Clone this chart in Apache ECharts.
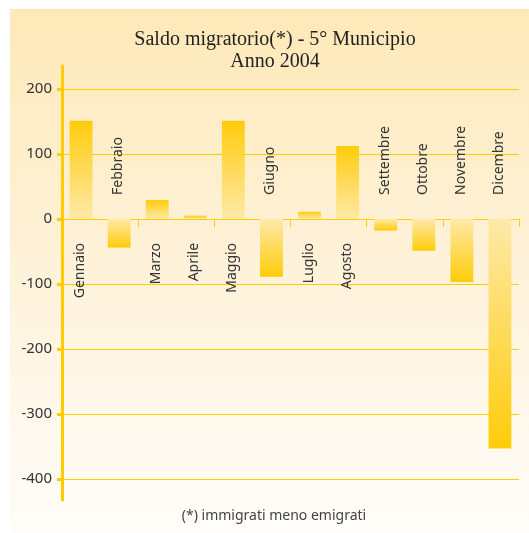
<!DOCTYPE html>
<html>
<head>
<meta charset="utf-8">
<script src="https://cdn.jsdelivr.net/npm/echarts@6/dist/echarts.min.js"></script>
<style>html,body{margin:0;padding:0;background:#fff;}#c{width:529px;height:533px;}</style>
</head>
<body>
<div id="c"></div>
<script>
const categories = ['Gennaio','Febbraio','Marzo','Aprile','Maggio','Giugno','Luglio','Agosto','Settembre','Ottobre','Novembre','Dicembre'];
const values = [151, -44, 29, 5, 151, -89, 11, 112, -18, -49, -97, -353];
const yTicks = [-400, -300, -200, -100, 0, 100, 200];
const titleText = 'Saldo migratorio(*) - 5° Municipio\nAnno 2004';
const noteText = '(*) immigrati meno emigrati';

const strong = '#ffcc0a';
const pale = '#fee9a8';
function barColor(v) {
  return {
    type: 'linear', x: 0, y: 0, x2: 0, y2: 1,
    colorStops: v >= 0
      ? [{offset: 0, color: strong}, {offset: 1, color: pale}]
      : [{offset: 0, color: pale}, {offset: 1, color: strong}]
  };
}

const chart = echarts.init(document.getElementById('c'), null, {renderer: 'canvas'});
chart.setOption({
  animation: false,
  graphic: [{
    type: 'rect', z: -10, silent: true,
    shape: {x: 10, y: 9, width: 519, height: 524},
    style: {fill: {type: 'linear', x: 0, y: 0, x2: 0, y2: 1,
      colorStops: [{offset: 0, color: '#fde9b8'}, {offset: 0.5, color: '#fef2da'}, {offset: 1, color: '#fffdf9'}]}}
  }],
  title: [{
    text: titleText,
    left: 270, top: 24, textAlign: 'center',
    textStyle: {fontFamily: 'Liberation Serif', fontSize: 20, fontWeight: 'normal', color: '#222', lineHeight: 22}
  }, {
    text: noteText,
    left: 269, top: 504, textAlign: 'center',
    textStyle: {fontFamily: 'Noto Sans', fontSize: 14, fontWeight: 'normal', color: '#444'}
  }],
  grid: {left: 62, right: 10, top: 66, bottom: 33, containLabel: false},
  xAxis: {
    type: 'category',
    data: categories,
    boundaryGap: true,
    axisLine: {show: true, onZero: true, lineStyle: {color: '#ffcc00', width: 1}},
    axisTick: {show: true, length: 8, lineStyle: {color: '#ffcc00', width: 1}},
    axisLabel: {show: false},
    splitLine: {show: false}
  },
  yAxis: {
    type: 'value',
    min: -432, max: 235,
    axisLine: {show: true, lineStyle: {color: '#ffcc00', width: 3}},
    axisTick: {show: true, length: 5, customValues: yTicks, lineStyle: {color: '#ffcc00', width: 3}},
    axisLabel: {show: true, customValues: yTicks, margin: 10, color: '#333', fontFamily: 'Noto Sans', fontSize: 15},
    splitLine: {show: true, lineStyle: {color: '#ffcc00', width: 1}}
  },
  series: [{
    type: 'bar',
    barWidth: '60%',
    data: values.map(v => ({value: v, itemStyle: {color: barColor(v)}})),
    z: 3
  }, {
    type: 'custom',
    coordinateSystem: 'cartesian2d',
    clip: false,
    z: 5,
    data: values.map((v, i) => [i, v]),
    renderItem: function (params, api) {
      const idx = api.value(0);
      const v = api.value(1);
      const p = api.coord([idx, 0]);
      return {
        type: 'text',
        x: p[0] - 1,
        y: p[1] + (v >= 0 ? 24 : -24),
        rotation: Math.PI / 2,
        style: {
          text: categories[idx],
          align: v >= 0 ? 'right' : 'left',
          verticalAlign: 'middle',
          fill: '#333',
          font: '14px "Noto Sans"'
        }
      };
    }
  }]
});
</script>
</body>
</html>
